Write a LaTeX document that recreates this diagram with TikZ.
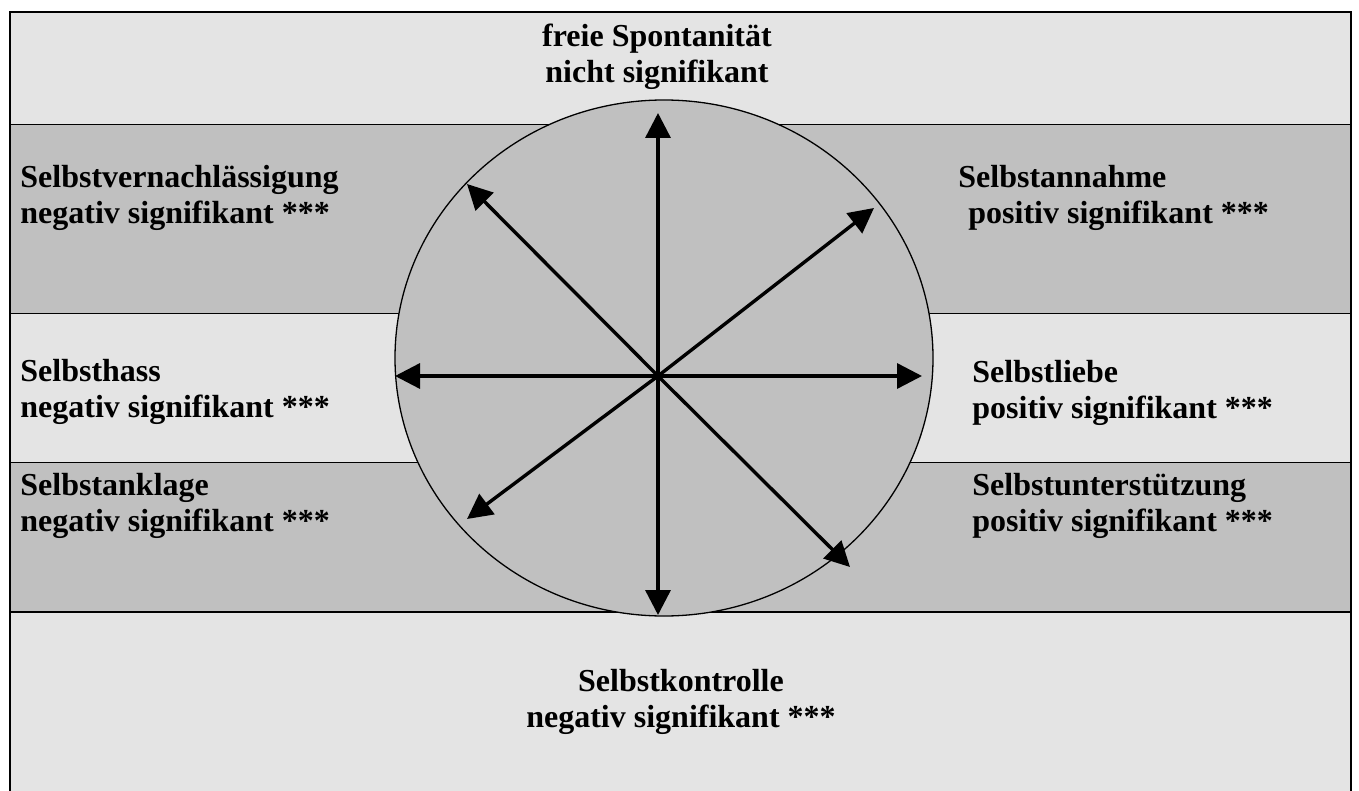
\documentclass[tikz,border=0pt]{standalone}
\usepackage{fontspec}
\setmainfont{Liberation Serif}
\usetikzlibrary{arrows.meta}
\definecolor{bandlight}{RGB}{228,228,228}
\definecolor{banddark}{RGB}{192,192,192}
\newcommand\lblL[1]{\begin{tabular}[t]{@{}l@{}}#1\end{tabular}}
\newcommand\lblC[1]{\begin{tabular}[t]{@{}c@{}}#1\end{tabular}}
\tikzset{
  lbl/.style={inner sep=0pt, font=\fontsize{16}{18}\selectfont\bfseries},
  thinline/.style={line width=0.5pt},
  thickline/.style={line width=1pt},
  arr/.style={line width=1.7pt, -{Triangle[length=12.5pt,width=12.5pt]}},
  ring/.style={draw=black, line width=0.65pt, fill=banddark}
}
\begin{document}
\begin{tikzpicture}[x=0.5pt,y=-0.5pt]
\useasboundingbox (0,0) rectangle (1359,791);
% bands
\fill[bandlight] (10,12) rectangle (1351,124.5);
\fill[banddark] (10,124.5) rectangle (1351,313);
\fill[bandlight] (10,313) rectangle (1351,462);
\fill[banddark] (10,462) rectangle (1351,612);
\fill[bandlight] (10,612) rectangle (1351,795);
\draw[thinline] (10,124.5) -- (1351,124.5);
\draw[thinline] (10,313) -- (1351,313);
\draw[thinline] (10,462) -- (1351,462);
\draw[thickline] (10,612) -- (1351,612);
\draw[line width=0.9pt] (10,800) -- (10,12) -- (1351,12) -- (1351,800);
% circle
\draw[ring] (664,358) ellipse [x radius=134.5pt, y radius=129pt];
% arrows
\coordinate (c) at (658,376);
\coordinate (n) at (658,113);
\coordinate (s) at (658,615);
\coordinate (w) at (395,376);
\coordinate (e) at (922,376);
\coordinate (nw) at (467,184);
\coordinate (ne) at (874,208);
\coordinate (sw) at (467,519);
\coordinate (se) at (850,567);
\foreach \t in {n,s,w,e,nw,ne,sw,se} \draw[arr] (c) -- (\t);
% labels
\node[lbl, anchor=base] (spont) at (657,47) {\lblC{freie Spontanität\\nicht signifikant}};
\node[lbl, anchor=base west] (vern) at (20,188) {\lblL{Selbstvernachlässigung\\negativ signifikant ***}};
\node[lbl, anchor=base west] (annahme) at (958,188) {\lblL{Selbstannahme\\\hspace{5pt}positiv signifikant ***}};
\node[lbl, anchor=base west] (hass) at (20,381) {\lblL{Selbsthass\\negativ signifikant ***}};
\node[lbl, anchor=base west] (liebe) at (972,382) {\lblL{Selbstliebe\\positiv signifikant ***}};
\node[lbl, anchor=base west] (anklage) at (20,495) {\lblL{Selbstanklage\\negativ signifikant ***}};
\node[lbl, anchor=base west] (unterst) at (972,495) {\lblL{Selbstunterstützung\\positiv signifikant ***}};
\node[lbl, anchor=base] (kontrolle) at (681,691) {\lblC{Selbstkontrolle\\negativ signifikant ***}};
\end{tikzpicture}
\end{document}
